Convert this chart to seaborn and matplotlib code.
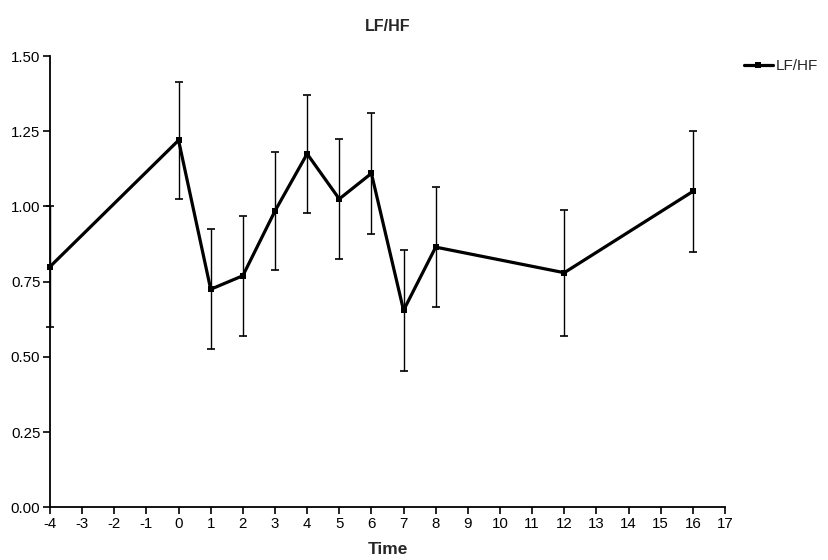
import matplotlib
matplotlib.use("Agg")
import matplotlib.pyplot as plt
import seaborn as sns
import pandas as pd

# LF/HF ratio over time, mean with standard error
time = [-4, 0, 1, 2, 3, 4, 5, 6, 7, 8, 12, 16]
lf_hf = [0.80, 1.22, 0.725, 0.77, 0.985, 1.175, 1.025, 1.11, 0.655, 0.865, 0.78, 1.05]
sem = [0.20, 0.195, 0.20, 0.20, 0.195, 0.195, 0.20, 0.20, 0.20, 0.20, 0.21, 0.20]
x_ticks = list(range(-4, 18))
y_ticks = [0.00, 0.25, 0.50, 0.75, 1.00, 1.25, 1.50]

df = pd.DataFrame({"Time": time, "LF/HF": lf_hf, "SEM": sem})

sns.set_theme(style="ticks")
plt.rcParams["font.family"] = ["Liberation Sans", "DejaVu Sans"]

fig = plt.figure(figsize=(8.29, 5.60), dpi=100)
ax = fig.add_axes([0.0603, 0.0938, 0.8142, 0.8062])

ax.errorbar(df["Time"], df["LF/HF"], yerr=df["SEM"], fmt="none",
            ecolor="black", elinewidth=1.0, capsize=3, capthick=1.2,
            clip_on=False, zorder=2)
sns.lineplot(data=df, x="Time", y="LF/HF", ax=ax, color="black",
             linewidth=2.3, marker="s", markersize=4.5, markeredgewidth=0,
             label="LF/HF", clip_on=False, zorder=3, legend=False)

ax.set_xlim(-4, 17)
ax.set_ylim(0, 1.5)
ax.set_xticks(x_ticks)
ax.set_xticklabels([str(t) for t in x_ticks])
ax.set_yticks(y_ticks)
ax.set_yticklabels([f"{v:.2f}" for v in y_ticks])

for side in ("top", "right"):
    ax.spines[side].set_visible(False)
for side in ("left", "bottom"):
    ax.spines[side].set_linewidth(1.3)
    ax.spines[side].set_color("black")
ax.tick_params(axis="both", direction="out", length=5, width=1.2,
               color="black", labelsize=10.8, labelcolor="black", pad=2)

ax.set_title("LF/HF", fontsize=11.5, fontweight="bold", pad=18)
ax.set_xlabel("Time", fontsize=12.5, fontweight="bold", labelpad=8)
ax.set_ylabel("")

handles = [plt.Line2D([], [], color="black", linewidth=2.3, marker="s",
                      markersize=4.5, markeredgewidth=0)]
fig.legend(handles, ["LF/HF"], loc="upper left", bbox_to_anchor=(0.890, 0.905),
           frameon=False, fontsize=11, handlelength=1.9, handletextpad=0.2,
           borderaxespad=0)

fig.savefig("out.png", dpi=100, facecolor="white")
